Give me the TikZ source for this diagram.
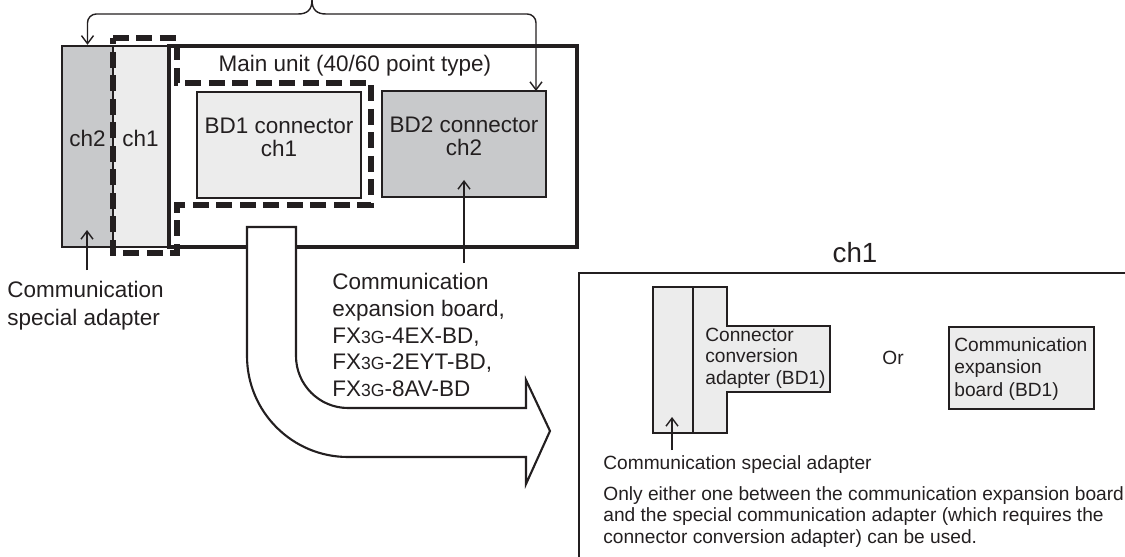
\documentclass[tikz,border=0pt]{standalone}
\usepackage{fontspec}
\setmainfont{Liberation Sans}
\usetikzlibrary{arrows.meta,fit}
\definecolor{ink}{HTML}{231F20}
\definecolor{chdark}{HTML}{C8C9CB}
\definecolor{chlight}{HTML}{ECECEC}
\newcommand{\fxname}{FX{\fontsize{10}{12}\selectfont 3G}}
\tikzset{
  unitbox/.style={draw=ink, line width=1.9pt, inner sep=0pt},
  darkbox/.style={draw=ink, fill=chdark, line width=1.4pt, inner sep=0pt,
                  align=center, font=\fontsize{12.8}{13.3}\selectfont},
  lightbox/.style={draw=ink, fill=chlight, line width=1.4pt, inner sep=0pt,
                   align=center, font=\fontsize{12.8}{13.3}\selectfont},
  smallbox/.style={draw=ink, fill=chlight, line width=1.3pt, inner sep=0pt},
  dashline/.style={draw=ink, line width=2.9pt, dash pattern=on 0.32cm off 0.15cm},
  arr/.style={-{Straight Barb[length=1.6mm,width=2.4mm]}, draw=ink, line width=0.8pt},
  lab/.style={align=left, inner sep=0pt, anchor=north west,
              font=\fontsize{12.8}{15.9}\selectfont},
  note/.style={align=left, inner sep=0pt, anchor=north west,
               font=\fontsize{10.9}{12.3}\selectfont},
  bigarrow/.style={draw=ink, fill=white, line width=1.2pt, line join=miter},
}

\begin{document}
\begin{tikzpicture}[x=0.02cm, y=-0.02cm, color=ink]
\useasboundingbox (0,0) rectangle (1125,557);

% main unit with the two side adapters
\node[unitbox, fit={(169,46) (577,247)}] (main) {};
\node[font=\fontsize{12.8}{14}\selectfont] (mainlbl) at (355,66) {Main unit (40/60 point type)};

\node[darkbox, fit={(62,46) (113,247)}] (chtwo) {ch2};
\node[lightbox, fit={(113,46) (168,247)}] (chone) {ch1};

\draw[dashline] (113,38) -- (177,38) -- (177,83) -- (371,83) -- (371,205)
  -- (177,205) -- (177,253) -- (113,253) -- cycle;

\node[lightbox, fit={(197,92) (361,198)}] (bdone) {BD1 connector\\ch1};
\node[darkbox, fit={(382,91) (546,197)}] (bdtwo) {BD2 connector\\ch2};

% brace on top
\coordinate (brace) at (312,0);
\coordinate (bar) at (0,14);
\coordinate (bdtwotop) at (536,91);
\draw[arr] (brace) .. controls (312,10) and (307,14) .. (298,14)
  [rounded corners=5pt] -- (chtwo.north |- bar) -- (chtwo.north);
\draw[arr] (brace) .. controls (312,10) and (317,14) .. (326,14)
  [rounded corners=5pt] -- (bdtwotop |- bar) -- (bdtwotop);

% big bent arrow
\draw[bigarrow] (247,227) -- (296,227) -- (296,356)
  arc[start angle=180, end angle=90, radius=52] -- (526,408) -- (526,380)
  -- (550,431) -- (526,484) -- (526,457) -- (348,457)
  arc[start angle=90, end angle=180, radius=101] -- cycle;

% labels
\node[lab] (csalbl) at (7,281) {Communication\\special adapter};
\coordinate (chtwotail) at (87,270);
\coordinate (chtwotip) at (87,230);
\draw[arr] (chtwotail) -- (chtwotip);

\node[lab, font=\fontsize{12.8}{15.2}\selectfont] (ceblbl) at (332,273)
  {Communication\\expansion board,\\\fxname-4EX-BD,\\\fxname-2EYT-BD,\\\fxname-8AV-BD};
\coordinate (bdtwotail) at (464,263);
\coordinate (bdtwotip) at (464,180);
\draw[arr] (bdtwotail) -- (bdtwotip);

% ch1 panel
\node[font=\fontsize{15.8}{18}\selectfont] (panelttl) at (855,253) {ch1};
\draw[line width=1.2pt] (1130,273) -- (579,273) -- (579,562);

\draw[line width=1.3pt, fill=chlight] (693,287) -- (727,287) -- (727,326)
  -- (830,326) -- (830,392) -- (727,392) -- (727,433) -- (693,433) -- cycle;
\node[smallbox, fit={(653,287) (693,433)}] (spa) {};
\node[note, anchor=west] (ccalbl) at (705,358) {Connector\\conversion\\adapter (BD1)};
\node[font=\fontsize{10.9}{12}\selectfont] (orlbl) at (893,358) {Or};
\node[smallbox, fit={(949,327) (1094,409)}] (ceb) {};
\node[note, anchor=west, font=\fontsize{10.9}{13}\selectfont] (ceblabel) at (954,369)
  {Communication\\expansion\\board (BD1)};

\coordinate (spatail) at (672,450);
\coordinate (spatip) at (672,417);
\draw[arr] (spatail) -- (spatip);
\node[note] (spalbl) at (603,455) {Communication special adapter};
\node[note] (onlylbl) at (603,486)
  {Only either one between the communication expansion board\\
   and the special communication adapter (which requires the\\
   connector conversion adapter) can be used.};

\end{tikzpicture}
\end{document}
